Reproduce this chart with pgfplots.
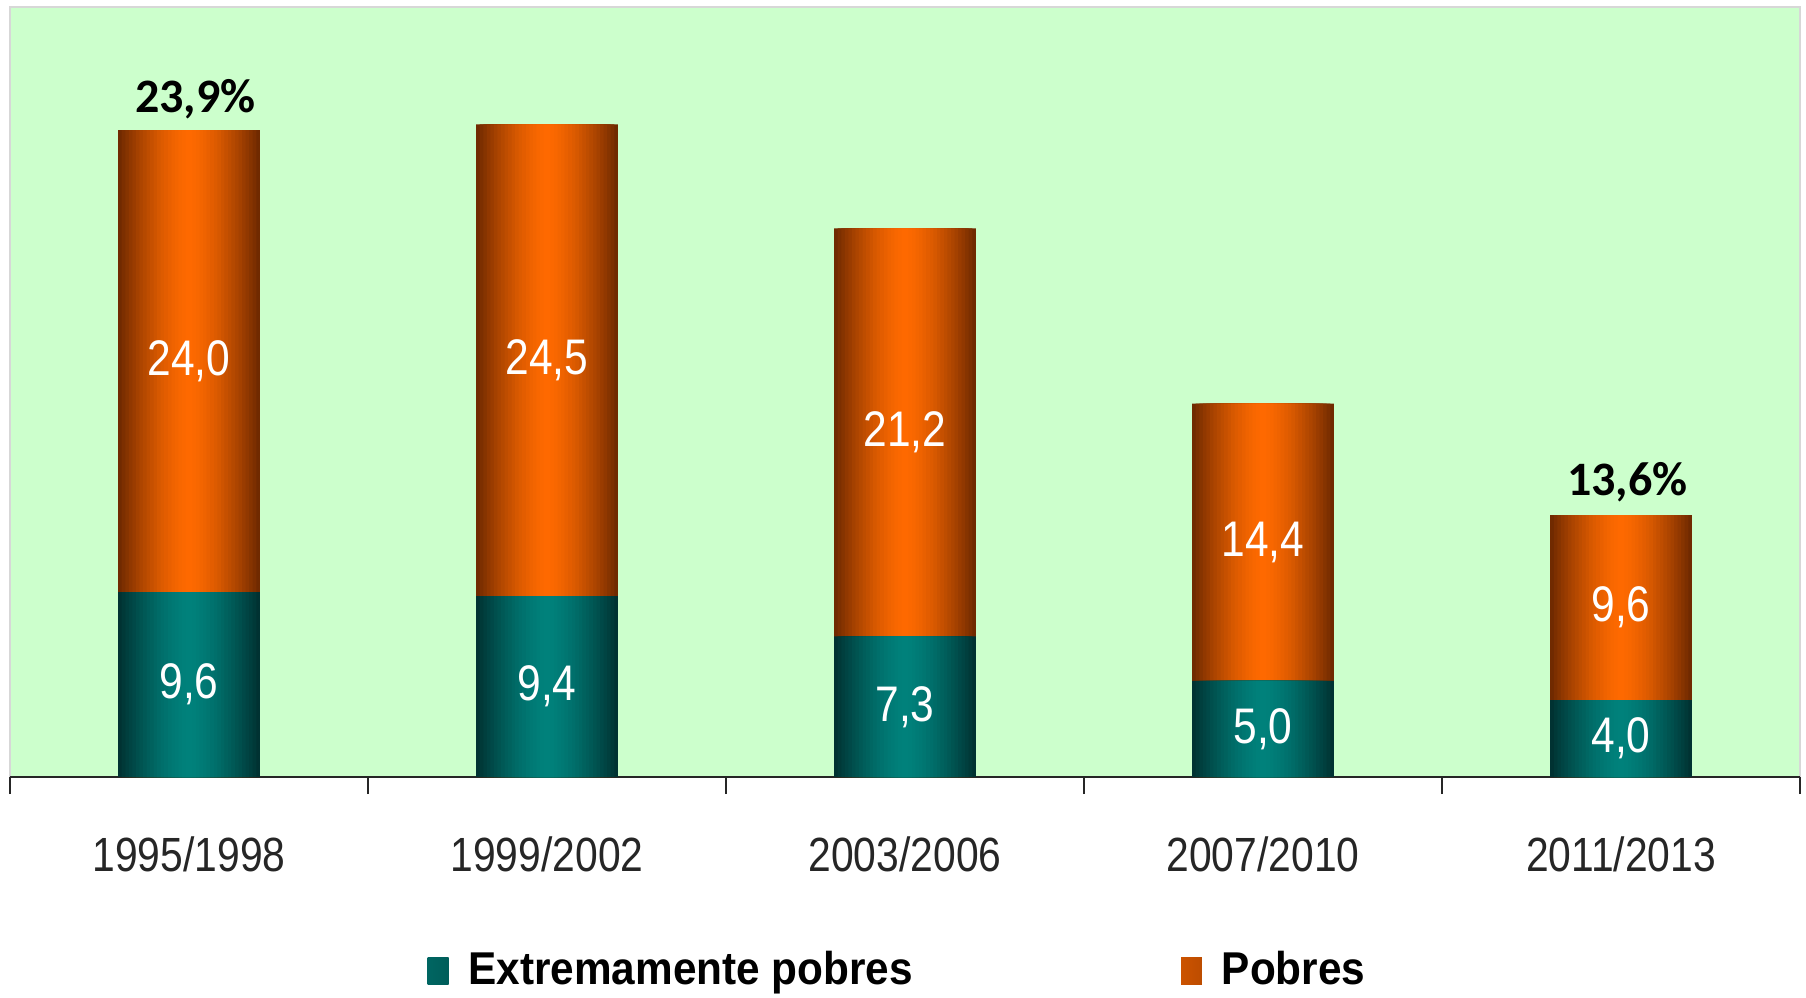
\documentclass[border=0pt]{standalone}
\usepackage{pgfplots}
\pgfplotsset{compat=1.18}
\usepackage{pgfplotstable}
\usepackage{fontspec}
\setmainfont{Liberation Sans}
\newfontfamily\narrowfont[FakeStretch=0.85]{Liberation Sans}
\newfontfamily\legfont[FakeStretch=0.92]{Liberation Sans}
\newfontfamily\carlito{Carlito}
\definecolor{bgg}{RGB}{204,255,204}
\definecolor{bgborder}{RGB}{215,215,215}
\definecolor{orMid}{RGB}{255,106,0}
\definecolor{orDark}{RGB}{108,40,0}
\definecolor{teMid}{RGB}{0,130,124}
\definecolor{teDark}{RGB}{0,48,48}
\pgfplotsset{sqlegend/.style={legend image code/.code={\path[##1, draw=none] (0pt,-3.4pt) rectangle (5.2pt,3.4pt);}}}
\pgfplotstableread{
x ext tot
0 9.6 33.6
1 9.4 33.9
2 7.3 28.5
3 5.0 19.4
4 4.0 13.6
}\bars
\begin{document}
\begin{tikzpicture}
\useasboundingbox (-2.5pt,-55pt) rectangle (449pt,194.25pt);
\begin{axis}[
  scale only axis, width=447.5pt, height=192.5pt,
  xmin=-0.5, xmax=4.5, ymin=0, ymax=40,
  axis x line*=bottom, axis y line=none,
  axis background/.style={fill=bgg, draw=bgborder, line width=0.6pt},
  xtick={0,...,4},
  xticklabels={1995/1998,1999/2002,2003/2006,2007/2010,2011/2013},
  minor xtick={-0.5,0.5,...,4.5},
  major tick length=0pt, minor tick length=4.3pt, tick align=outside,
  tick style={black!85, line width=0.6pt},
  x axis line style={black!85, line width=0.6pt},
  xticklabel style={font=\narrowfont\fontsize{12}{14}\selectfont, text=black!85, yshift=-11.4pt},
  legend columns=2,
  legend style={draw=none, fill=none, at={(0.4975,-0.252)}, anchor=center,
     font=\legfont\fontsize{11.5}{13}\selectfont\bfseries,
     /tikz/every odd column/.append style={column sep=3pt},
     /tikz/every even column/.append style={column sep=65pt}},
]
\pgfplotsinvokeforeach{0,...,19}{
  \pgfmathsetmacro\bw{35.4*(20-#1)/20}
  \pgfmathtruncatemacro\pc{100*(1-((19.5-#1)/20)^1.5)}
  \edef\tmp{\noexpand\addplot[ybar, bar shift=0pt, bar width=\bw pt, draw=none, fill=orMid!\pc!orDark, forget plot] table[x=x,y=tot]{\noexpand\bars};}
  \tmp
}
\pgfplotsinvokeforeach{0,...,19}{
  \pgfmathsetmacro\bw{35.4*(20-#1)/20}
  \pgfmathtruncatemacro\pc{100*(1-((19.5-#1)/20)^1.5)}
  \edef\tmp{\noexpand\addplot[ybar, bar shift=0pt, bar width=\bw pt, draw=none, fill=teMid!\pc!teDark, forget plot] table[x=x,y=ext]{\noexpand\bars};}
  \tmp
}
\addlegendimage{sqlegend, left color=teMid!65!teDark, middle color=teMid, right color=teMid!55!teDark}
\addlegendentry{Extremamente pobres}
\addlegendimage{sqlegend, left color=orMid!65!orDark, middle color=orMid, right color=orMid!55!orDark}
\addlegendentry{Pobres}
\end{axis}
\begin{axis}[
  scale only axis, width=447.5pt, height=192.5pt,
  xmin=-0.5, xmax=4.5, ymin=0, ymax=40, hide axis,
]
\addplot[draw=none, mark=none, nodes near coords, point meta=explicit symbolic,
  nodes near coords style={anchor=center, text=white, font=\narrowfont\fontsize{12.5}{14}\selectfont}]
  table[meta=lab] {
x y lab
0 4.8 9,6
1 4.7 9,4
2 3.65 7,3
3 2.5 5,0
4 2.0 4,0
0 21.6 24,0
1 21.65 24,5
2 17.9 21,2
3 12.2 14,4
4 8.8 9,6
};
\addplot[draw=none, mark=none, nodes near coords, point meta=explicit symbolic,
  nodes near coords style={anchor=center, text=black, xshift=1.6pt, font=\carlito\bfseries\fontsize{12}{14}\selectfont}]
  table[meta=lab] {
x y lab
0 35.2 23,9\%
4 15.3 13,6\%
};
\end{axis}
\end{tikzpicture}
\end{document}
